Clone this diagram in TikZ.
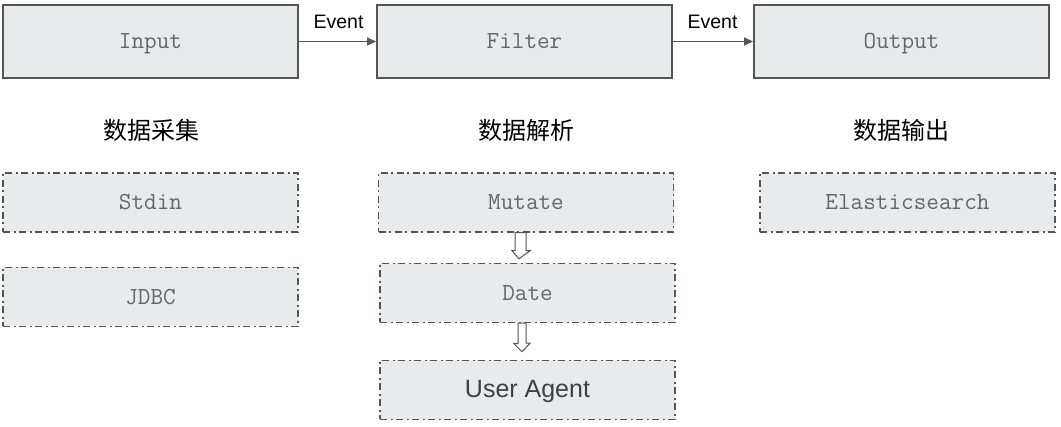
\documentclass[tikz,border=0pt]{standalone}
\usepackage{fontspec}
\setmainfont{Liberation Sans}
\newfontfamily\cjk{Noto Sans CJK SC}
\usetikzlibrary{arrows.meta,calc}
\definecolor{boxfill}{HTML}{E8EBEC}
\definecolor{boxline}{HTML}{555555}
\definecolor{monotext}{HTML}{666666}
\tikzset{
  monofont/.style={font=\ttfamily\fontsize{24.5}{28}\selectfont,text=monotext,text height=17pt,text depth=2pt},
  mainbox/.style={draw=boxline,line width=2pt,fill=boxfill,minimum width=295pt,minimum height=73pt,inner sep=0pt,monofont},
  plugbox/.style={draw=boxline,line width=1.5pt,fill=boxfill,minimum width=295pt,minimum height=59pt,inner sep=0pt,
    dash pattern=on 7pt off 3.5pt on 2pt off 3.5pt,monofont},
  evlabel/.style={font=\fontsize{19.5}{22}\selectfont,text=black,inner sep=0pt},
  stage/.style={font=\cjk\fontsize{24}{28}\selectfont,text=black,inner sep=0pt},
  evarrow/.style={draw=boxline,line width=1.5pt,-{Triangle[length=9pt,width=8pt]}},
  hollow/.style={draw=boxline,line width=1pt,fill=white}
}
\begin{document}
\begin{tikzpicture}[x=1pt,y=-1pt]
\useasboundingbox (0,0) rectangle (1061,427);
\node[mainbox] (input) at (150.5,41.5) {Input};
\node[mainbox] (filter) at (524.5,41.5) {Filter};
\node[mainbox] (output) at (901.5,41.5) {Output};
\draw[evarrow] (input.east) -- (filter.west);
\draw[evarrow] (filter.east) -- (output.west);
\node[evlabel] (ev1) at (338.5,22) {Event};
\node[evlabel] (ev2) at (712.5,22) {Event};
\node[stage] (s1) at (151,130) {数据采集};
\node[stage] (s2) at (526,130) {数据解析};
\node[stage] (s3) at (901,130) {数据输出};
\node[plugbox] (stdin) at (150.5,202.5) {Stdin};
\node[plugbox] (jdbc) at (150.5,297) {JDBC};
\node[plugbox] (mutate) at (526,202.5) {Mutate};
\node[plugbox] (date) at (527.5,293) {Date};
\node[plugbox,font=\fontsize{25}{28}\selectfont,text=black!75] (ua) at (527.5,390) {User Agent};
\node[plugbox] (es) at (907.5,202.5) {Elasticsearch};
\draw[hollow] ($(mutate.south)+(-8,0)$) -- ++(8,0) -- ++(0,18) -- ++(4,0) -- ($(date.north)+(-8.5,-4)$) -- ++(-7,-8) -- ++(3,0) -- ++(0,-18) -- cycle;
\draw[hollow] ($(date.south)+(-9.5,0)$) -- ++(8,0) -- ++(0,20) -- ++(4,0) -- ($(ua.north)+(-5.5,-8)$) -- ++(-8,-8) -- ++(4,0) -- ++(0,-20) -- cycle;
\end{tikzpicture}
\end{document}
